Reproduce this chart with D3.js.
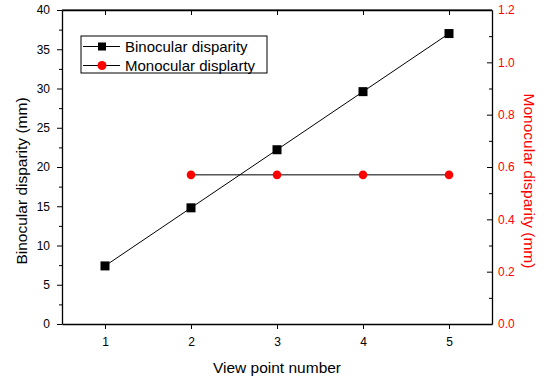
<!DOCTYPE html>
<html>
<head>
<meta charset="utf-8">
<script src="https://cdn.jsdelivr.net/npm/d3@7"></script>
<style>
  body { margin: 0; background: #fff; }
  text { font-family: "Liberation Sans", Arial, sans-serif; }
</style>
</head>
<body>
<svg id="chart" width="551" height="379"></svg>
<script>
// data
var viewPoints = [1, 2, 3, 4, 5]
var binocular = [7.4, 14.8, 22.2, 29.6, 37.0]
var monoPoints = [2, 3, 4, 5]
var monocular = [0.57, 0.57, 0.57, 0.57]
var leftTicks = [0, 5, 10, 15, 20, 25, 30, 35, 40]
var rightTicks = [0, 0.2, 0.4, 0.6, 0.8, 1.0, 1.2]

var margin = {top: 10, right: 59, bottom: 55, left: 62},
    w = 551 - margin.left - margin.right,
    h = 379 - margin.top - margin.bottom

var svg = d3.select("#chart")
var g = svg.append("g").attr("transform", `translate(${margin.left},${margin.top})`)

var x = d3.scaleLinear().domain([0.5, 5.5]).range([0, w])
var yL = d3.scaleLinear().domain([0, 40]).range([h, 0])
var yR = d3.scaleLinear().domain([0, 1.2]).range([h, 0])

// bottom axis
var xAxis = g.append("g").attr("transform", `translate(0,${h})`)
  .call(d3.axisBottom(x).tickValues(viewPoints).tickFormat(d3.format("d")).tickSize(5).tickSizeOuter(0))
xAxis.selectAll("text").attr("dy", "1.15em")
// top axis, inward ticks
g.append("g")
  .call(d3.axisBottom(x).tickValues(viewPoints).tickFormat("").tickSize(5).tickSizeOuter(0))

// left axis + minor ticks (outward)
var yAxisL = g.append("g")
  .call(d3.axisLeft(yL).tickValues(leftTicks).tickSize(5).tickPadding(7).tickSizeOuter(0))
g.append("g")
  .call(d3.axisLeft(yL).tickValues(d3.range(2.5, 40, 5)).tickFormat("").tickSize(3).tickSizeOuter(0))
  .select(".domain").remove()

// right axis + minor ticks (inward)
var yAxisR = g.append("g").attr("transform", `translate(${w},0)`)
  .call(d3.axisRight(yR).tickValues(rightTicks).tickFormat(d3.format(".1f")).tickSize(-5).tickPadding(6).tickSizeOuter(0))
yAxisR.selectAll("text").attr("fill", "#ff0000")
g.append("g").attr("transform", `translate(${w},0)`)
  .call(d3.axisRight(yR).tickValues(d3.range(0.1, 1.2, 0.2)).tickFormat("").tickSize(-3).tickSizeOuter(0))
  .select(".domain").remove()

// top frame line
g.append("line").attr("x1", 0).attr("x2", w).attr("y1", 0).attr("y2", 0).attr("stroke", "#000")

g.selectAll(".domain").attr("stroke-width", 1.3)
g.selectAll(".tick text").attr("font-size", 12).attr("font-family", "Liberation Sans, Arial, sans-serif")

// lines
var lineB = d3.line().x((d, i) => x(viewPoints[i])).y(d => yL(d))
g.append("path").datum(binocular).attr("d", lineB)
  .attr("fill", "none").attr("stroke", "#000").attr("stroke-width", 1)
var lineM = d3.line().x((d, i) => x(monoPoints[i])).y(d => yR(d))
g.append("path").datum(monocular).attr("d", lineM)
  .attr("fill", "none").attr("stroke", "#000").attr("stroke-width", 1)

g.selectAll(".sq").data(binocular).enter().append("rect")
  .attr("x", (d, i) => x(viewPoints[i]) - 4.5)
  .attr("y", d => yL(d) - 4.5)
  .attr("width", 9).attr("height", 9).attr("fill", "#000")
g.selectAll(".dot").data(monocular).enter().append("circle")
  .attr("cx", (d, i) => x(monoPoints[i]))
  .attr("cy", d => yR(d))
  .attr("r", 4.3).attr("fill", "#ff0000")

// axis titles
svg.append("text").attr("x", margin.left + x(3)).attr("y", 373)
  .attr("text-anchor", "middle").attr("font-size", 15.5).text("View point number")
svg.append("text").attr("transform", "translate(27,181) rotate(-90)")
  .attr("text-anchor", "middle").attr("font-size", 15.5).text("Binocular disparity (mm)")
svg.append("text").attr("transform", "translate(524,181) rotate(90)")
  .attr("text-anchor", "middle").attr("font-size", 15.5).attr("fill", "#ff0000").text("Monocular disparity (mm)")

// legend
var lg = svg.append("g").attr("transform", "translate(81,36)")
lg.append("rect").attr("width", 186).attr("height", 37)
  .attr("fill", "#fff").attr("stroke", "#000").attr("stroke-width", 1)
var items = [{name: "Binocular disparity", type: "sq"}, {name: "Monocular displarty", type: "dot"}]
items.forEach(function(it, i) {
  var yy = 10.5 + i * 19
  lg.append("line").attr("x1", 2).attr("x2", 39).attr("y1", yy).attr("y2", yy).attr("stroke", "#000")
  if (it.type == "sq") {
    lg.append("rect").attr("x", 17).attr("y", yy - 4).attr("width", 8).attr("height", 8).attr("fill", "#000")
  } else {
    lg.append("circle").attr("cx", 21).attr("cy", yy).attr("r", 4.5).attr("fill", "#ff0000")
  }
  lg.append("text").attr("x", 44).attr("y", yy + 5.5).attr("font-size", 15).text(it.name)
})
</script>
</body>
</html>
